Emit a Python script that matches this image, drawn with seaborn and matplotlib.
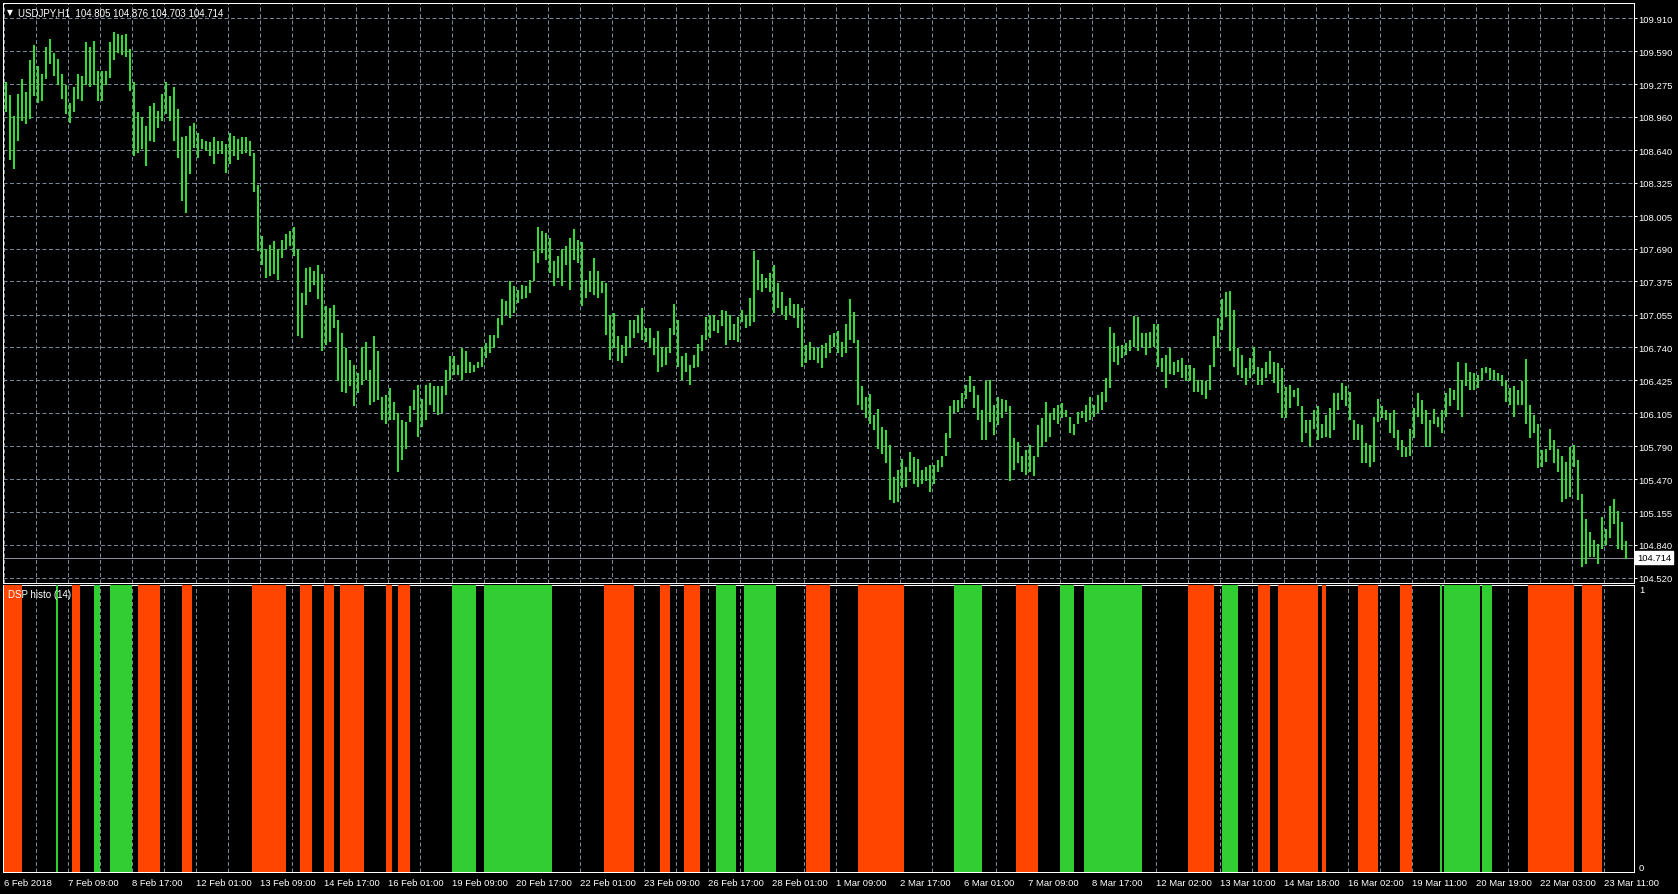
import numpy as np
import pandas as pd
import matplotlib
matplotlib.use("Agg")
import matplotlib.pyplot as plt
import seaborn as sns
from matplotlib.transforms import blended_transform_factory

# ---------------- data ----------------
symbol = "USDJPY,H1"
last_ohlc = [104.805, 104.876, 104.703, 104.714]
indicator_name = "DSP histo (14)"

# one entry = two hourly bars (high / low of the pair)
price_high = [
    109.30, 109.17, 108.97, 109.18, 109.32, 109.20, 109.51, 109.65, 109.45, 109.37,
    109.63, 109.71, 109.57, 109.52, 109.37, 109.27, 109.09, 109.25, 109.37, 109.35,
    109.68, 109.63, 109.69, 109.40, 109.40, 109.40, 109.68, 109.78, 109.76, 109.75,
    109.76, 109.61, 109.30, 109.01, 108.96, 108.87, 109.06, 109.09, 109.02, 109.18,
    109.30, 109.16, 109.25, 109.04, 108.77, 108.78, 108.87, 108.90, 108.80, 108.75,
    108.73, 108.72, 108.77, 108.73, 108.73, 108.70, 108.80, 108.78, 108.75, 108.77,
    108.77, 108.73, 108.61, 108.30, 107.81, 107.69, 107.73, 107.76, 107.69, 107.77,
    107.83, 107.86, 107.90, 107.69, 107.26, 107.50, 107.51, 107.48, 107.53, 107.45,
    107.14, 107.12, 107.15, 107.00, 106.88, 106.73, 106.62, 106.57, 106.49, 106.74,
    106.79, 106.52, 106.85, 106.71, 106.26, 106.28, 106.35, 106.21, 106.11, 106.04,
    106.02, 106.18, 106.33, 106.38,
    106.24, 106.38, 106.40, 106.37, 106.37, 106.37, 106.52, 106.66, 106.66, 106.57,
    106.73, 106.71, 106.60, 106.57, 106.60, 106.74, 106.78, 106.86, 106.86, 107.02,
    107.21, 107.19, 107.38, 107.33, 107.29, 107.34, 107.33, 107.39, 107.67, 107.90,
    107.86, 107.84, 107.79, 107.57, 107.62, 107.69, 107.72, 107.79, 107.88, 107.77,
    107.75, 107.39, 107.48, 107.60, 107.48, 107.38, 107.36, 107.05, 107.07, 106.85,
    106.76, 106.85, 107.00, 107.00, 107.05, 107.12, 106.93, 106.93, 106.83, 106.90,
    106.74, 106.74, 106.93, 107.16, 107.00, 106.66, 106.69, 106.57, 106.67, 106.77,
    106.86, 107.03, 107.05, 107.05, 107.00, 107.10, 107.09, 107.05, 106.97, 107.03,
    107.10, 107.05, 107.22, 107.67, 107.58, 107.45, 107.41, 107.46, 107.53, 107.36,
    107.27, 107.14, 107.22, 107.16, 107.16, 107.12, 106.76, 106.79, 106.74, 106.73,
    106.76, 106.78,
    106.86, 106.88, 106.90, 106.79, 106.97, 107.21, 107.08, 106.81, 106.37, 106.26,
    106.29, 106.09, 106.15, 105.97, 105.94, 105.80, 105.49, 105.56, 105.67, 105.59,
    105.73, 105.68, 105.67, 105.56, 105.59, 105.61, 105.61, 105.66, 105.69, 105.92,
    106.18, 106.23, 106.23, 106.30, 106.38, 106.46, 106.37, 106.28, 106.14, 106.42,
    106.43, 106.19, 106.26, 106.24, 106.23, 106.18, 105.87, 105.83, 105.69, 105.75,
    105.80, 105.69, 105.99, 106.06, 106.21, 106.11, 106.16, 106.19, 106.20, 106.14,
    106.07, 106.00, 106.12, 106.13, 106.19, 106.26, 106.19, 106.28, 106.31, 106.45,
    106.94, 106.88, 106.75, 106.76, 106.78, 106.81, 107.04, 107.03, 106.88, 106.88,
    106.89, 106.97, 106.97, 106.64, 106.67, 106.73, 106.60, 106.62, 106.64, 106.57,
    106.57, 106.54, 106.43, 106.43, 106.42, 106.57, 106.85, 107.02, 107.21, 107.27,
    107.28, 107.10, 106.73,
    106.67, 106.54, 106.64, 106.74, 106.55, 106.54, 106.60, 106.71, 106.60, 106.59,
    106.54, 106.36, 106.38, 106.33, 106.35, 106.18, 106.04, 106.04, 106.14, 106.18,
    106.00, 106.09, 106.16, 106.30, 106.30, 106.40, 106.37, 106.31, 106.04, 106.00,
    105.99, 105.82, 105.80, 106.07, 106.24, 106.18, 106.14, 106.11, 106.14, 105.94,
    105.85, 105.78, 105.95, 106.16, 106.30, 106.23, 106.14, 106.04, 106.15, 106.07,
    106.14, 106.30, 106.35, 106.33, 106.60, 106.43, 106.59, 106.50, 106.49, 106.47,
    106.54, 106.55, 106.54, 106.52, 106.49, 106.47, 106.42, 106.35, 106.37, 106.33,
    106.42, 106.63, 106.19, 106.09, 106.00, 105.75, 105.76, 105.95, 105.85, 105.76,
    105.69, 105.64, 105.78, 105.80, 105.66, 105.33, 105.09, 104.96, 104.89, 104.85,
    105.11, 104.99, 105.21, 105.28, 105.16, 105.06, 104.88,
]
price_low = [
    109.01, 108.54, 108.46, 108.73, 108.92, 108.89, 108.94, 109.16, 109.09, 109.11,
    109.32, 109.47, 109.35, 109.27, 109.13, 108.99, 108.90, 109.01, 109.13, 109.11,
    109.27, 109.25, 109.27, 109.11, 109.11, 109.27, 109.33, 109.51, 109.57, 109.56,
    109.54, 109.21, 108.58, 108.61, 108.65, 108.49, 108.73, 108.72, 108.85, 108.92,
    108.99, 108.92, 108.73, 108.56, 108.15, 108.03, 108.41, 108.66, 108.56, 108.65,
    108.63, 108.58, 108.51, 108.60, 108.60, 108.42, 108.51, 108.58, 108.54, 108.60,
    108.61, 108.58, 108.24, 107.67, 107.53, 107.41, 107.43, 107.45, 107.39, 107.60,
    107.69, 107.72, 107.62, 106.85, 106.83, 107.15, 107.27, 107.34, 107.21, 106.71,
    106.76, 106.79, 106.93, 106.42, 106.31, 106.30, 106.37, 106.18, 106.30, 106.38,
    106.43, 106.19, 106.21, 106.23, 106.04, 106.00, 106.04, 106.04, 105.54, 105.66,
    105.76, 106.02, 106.14, 105.88,
    105.97, 106.04, 106.19, 106.12, 106.09, 106.11, 106.28, 106.43, 106.47, 106.47,
    106.43, 106.49, 106.49, 106.50, 106.54, 106.55, 106.64, 106.69, 106.73, 106.83,
    106.96, 107.05, 107.02, 107.07, 107.17, 107.21, 107.22, 107.26, 107.38, 107.55,
    107.65, 107.58, 107.46, 107.33, 107.41, 107.33, 107.53, 107.29, 107.58, 107.55,
    107.14, 107.22, 107.27, 107.24, 107.22, 107.26, 106.86, 106.62, 106.73, 106.61,
    106.59, 106.66, 106.74, 106.83, 106.88, 106.81, 106.79, 106.73, 106.67, 106.50,
    106.55, 106.57, 106.69, 106.86, 106.55, 106.43, 106.50, 106.38, 106.54, 106.55,
    106.71, 106.81, 106.83, 106.90, 106.88, 106.95, 106.76, 106.81, 106.81, 106.79,
    106.98, 106.93, 106.95, 106.98, 107.29, 107.27, 107.31, 107.27, 107.07, 107.12,
    107.05, 107.00, 107.05, 107.02, 106.93, 106.55, 106.59, 106.62, 106.62, 106.59,
    106.54, 106.64,
    106.69, 106.74, 106.69, 106.65, 106.69, 106.81, 106.78, 106.19, 106.14, 106.06,
    106.00, 105.94, 105.76, 105.71, 105.63, 105.27, 105.24, 105.25, 105.39, 105.40,
    105.54, 105.42, 105.40, 105.42, 105.45, 105.35, 105.42, 105.54, 105.59, 105.69,
    105.87, 106.11, 106.12, 106.16, 106.24, 106.31, 106.16, 106.04, 105.85, 105.85,
    106.02, 105.90, 105.99, 106.06, 106.12, 105.45, 105.56, 105.63, 105.54, 105.51,
    105.54, 105.50, 105.68, 105.78, 105.83, 105.88, 106.04, 106.00, 106.06, 106.07,
    105.92, 105.90, 106.00, 106.06, 106.02, 106.04, 106.07, 106.11, 106.14, 106.21,
    106.35, 106.60, 106.57, 106.64, 106.67, 106.71, 106.74, 106.71, 106.74, 106.67,
    106.73, 106.74, 106.55, 106.50, 106.35, 106.48, 106.47, 106.50, 106.45, 106.42,
    106.42, 106.31, 106.31, 106.28, 106.24, 106.33, 106.55, 106.73, 106.91, 107.03,
    106.71, 106.55, 106.47,
    106.45, 106.38, 106.45, 106.48, 106.38, 106.38, 106.45, 106.48, 106.40, 106.30,
    106.06, 106.06, 106.16, 106.26, 106.18, 105.83, 105.92, 105.78, 105.95, 105.85,
    105.87, 105.88, 105.87, 105.94, 106.14, 106.23, 106.18, 106.04, 105.85, 105.85,
    105.63, 105.63, 105.59, 105.64, 106.02, 106.06, 106.04, 105.92, 105.87, 105.75,
    105.68, 105.68, 105.69, 105.87, 106.07, 106.00, 105.78, 105.78, 106.00, 105.97,
    105.92, 106.07, 106.18, 106.23, 106.14, 106.07, 106.37, 106.33, 106.33, 106.35,
    106.43, 106.49, 106.43, 106.43, 106.42, 106.37, 106.21, 106.19, 106.07, 106.19,
    106.19, 106.00, 105.87, 105.92, 105.58, 105.59, 105.64, 105.75, 105.63, 105.54,
    105.25, 105.28, 105.30, 105.59, 105.27, 104.63, 104.65, 104.72, 104.72, 104.65,
    104.80, 104.84, 104.90, 105.04, 104.80, 104.79, 104.70,
]

price_ticks = [109.910, 109.590, 109.275, 108.960, 108.640, 108.325, 108.005,
               107.690, 107.375, 107.055, 106.740, 106.425, 106.105, 105.790,
               105.470, 105.155, 104.840, 104.520]

time_labels = ["6 Feb 2018", "7 Feb 09:00", "8 Feb 17:00", "12 Feb 01:00",
               "13 Feb 09:00", "14 Feb 17:00", "16 Feb 01:00", "19 Feb 09:00",
               "20 Feb 17:00", "22 Feb 01:00", "23 Feb 09:00", "26 Feb 17:00",
               "28 Feb 01:00", "1 Mar 09:00", "2 Mar 17:00", "6 Mar 01:00",
               "7 Mar 09:00", "8 Mar 17:00", "12 Mar 02:00", "13 Mar 10:00",
               "14 Mar 18:00", "16 Mar 02:00", "19 Mar 11:00", "20 Mar 19:00",
               "22 Mar 03:00", "23 Mar 11:00"]

# histogram state runs (R = bearish, G = bullish, K = neutral), lengths in hourly bars
hist_state = ["R", "K", "G", "K", "R", "K", "G", "K", "G", "K",
              "R", "K", "R", "K", "R", "K", "R", "K", "R", "K",
              "R", "K", "R", "K", "R", "K", "G", "K", "G", "K",
              "R", "K", "R", "K", "R", "K", "G", "K", "G", "K",
              "R", "K", "R", "K", "G", "K", "R", "K", "G", "K",
              "G", "K", "R", "K", "G", "K", "R", "K", "R", "K",
              "R", "K", "R", "K", "R", "K", "G", "K", "G", "K",
              "G", "K", "R", "K", "R", "K"]
hist_len = [9, 17, 1, 7, 4, 7, 3, 5, 11, 3,
            11, 11, 5, 30, 17, 7, 6, 6, 5, 3,
            12, 11, 3, 3, 6, 21, 12, 4, 34, 26,
            15, 13, 5, 7, 8, 8, 10, 4, 16, 15,
            12, 14, 23, 25, 14, 17, 11, 11, 7, 5,
            29, 23, 13, 4, 8, 10, 6, 4, 20, 2,
            2, 16, 10, 11, 6, 14, 1, 1, 18, 1,
            5, 18, 23, 4, 10, 13]
hist_levels = [0, 1]

BARS_PER_POINT = 2
BARS_PER_LABEL = 32
BARS_PER_GRID = 16

# ---------------- style ----------------
BG = "#000000"
GRID = "#778899"
FG = "#ffffff"
PRICE_GREEN = "#32dc32"
HIST_COLORS = {"R": "#FF4500", "G": "#32CD32"}

sns.set_style("dark", rc={"axes.facecolor": BG, "figure.facecolor": BG,
                          "axes.edgecolor": FG, "text.color": FG,
                          "xtick.color": FG, "ytick.color": FG,
                          "axes.labelcolor": FG})
plt.rcParams["font.family"] = ["Liberation Sans", "DejaVu Sans"]

W, H = 1678, 895
fig = plt.figure(figsize=(W / 100, H / 100), dpi=100, facecolor=BG)

L, R = 2.5, 1633.5
ax1 = fig.add_axes([L / W, 1 - 584 / H, (R - L) / W, (584 - 4) / H])
ax2 = fig.add_axes([L / W, 1 - 873 / H, (R - L) / W, (873 - 586) / H], sharex=ax1)

n_bars = int(np.sum(hist_len))
xlim = (-1.25, n_bars + 2.5)

PX = 0.72  # one pixel in points
DASH = (0, (4, 2.5))

# ---- price panel ----
df = pd.DataFrame({"high": price_high, "low": price_low})
df["x"] = np.arange(len(df)) * BARS_PER_POINT + (BARS_PER_POINT - 1) / 2
ax1.vlines(df["x"], df["low"], df["high"], color=PRICE_GREEN,
           linewidth=2 * PX, zorder=3, antialiased=False)

ax1.set_ylim(104.4815 - 0.01, 110.056)
ax1.set_yticks(price_ticks)
ax1.set_yticklabels([f"{v:.3f}" for v in price_ticks])
ax1.yaxis.tick_right()
ax1.tick_params(axis="y", colors=FG, labelsize=6.8, length=3 * PX, width=PX, pad=1.5)
ax1.tick_params(axis="x", which="both", length=0, labelbottom=False)
ax1.axhline(last_ohlc[3], color="#8c8c9c", linewidth=PX, zorder=2)

trans = blended_transform_factory(ax1.transAxes, ax1.transData)
ax1.annotate(f"{last_ohlc[3]:.3f}", xy=(1.0, last_ohlc[3]), xycoords=trans,
             xytext=(2.6, 0), textcoords="offset points", ha="left", va="center",
             fontsize=6.8, color="black", annotation_clip=False,
             bbox=dict(boxstyle="square,pad=0.2", facecolor="white", edgecolor="white"))

# ---- histogram panel ----
runs = pd.DataFrame({"state": hist_state, "len": hist_len})
runs["start"] = runs["len"].cumsum() - runs["len"]
colored = runs[runs["state"] != "K"]
ax2.bar(colored["start"] - 0.5, 1.0, width=colored["len"], align="edge",
        color=[HIST_COLORS[s] for s in colored["state"]], linewidth=0, zorder=3)
ax2.set_ylim(0, 1)
ax2.set_yticks(hist_levels)
ax2.set_yticklabels([str(v) for v in hist_levels])
ax2.yaxis.tick_right()
ax2.tick_params(axis="y", colors=FG, labelsize=6.8, length=0, pad=4)
ylabs = ax2.get_yticklabels()
ylabs[0].set_va("bottom")
ylabs[1].set_va("top")

# ---- shared time axis ----
label_pos = np.arange(len(time_labels)) * BARS_PER_LABEL - 0.5
grid_pos = np.arange(1, n_bars // BARS_PER_GRID + 1) * BARS_PER_GRID - 0.5
ax2.set_xlim(*xlim)
ax2.set_xticks(label_pos)
ax2.set_xticklabels(time_labels)
ax2.set_xticks(grid_pos, minor=True)
ax2.tick_params(axis="x", which="major", colors=FG, labelsize=6.8,
                length=3 * PX, width=PX, pad=2)
ax2.tick_params(axis="x", which="minor", length=0)
for lab in ax2.get_xticklabels():
    lab.set_ha("left")

for ax in (ax1, ax2):
    ax.set_facecolor(BG)
    for sp in ax.spines.values():
        sp.set_color(FG)
        sp.set_linewidth(PX)
    ax.set_axisbelow(True)
    ax.grid(False)
    ax.grid(True, axis="x", which="both", color=GRID, linewidth=PX, linestyle=DASH)
ax1.grid(True, axis="y", which="major", color=GRID, linewidth=PX, linestyle=DASH)

# ---- captions ----
fig.text(7 / W, 1 - 12.5 / H, "\u25BC", color=FG, fontsize=5.5,
         va="center", ha="left", family=["DejaVu Sans"])
fig.text(18 / W, 1 - 13 / H,
         f"{symbol}  " + " ".join(f"{v:.3f}" for v in last_ohlc),
         color=FG, fontsize=7, va="center", ha="left")
fig.text(7.5 / W, 1 - 595 / H, indicator_name, color=FG, fontsize=7,
         va="center", ha="left")

fig.savefig("out.png", dpi=100, facecolor=BG)
